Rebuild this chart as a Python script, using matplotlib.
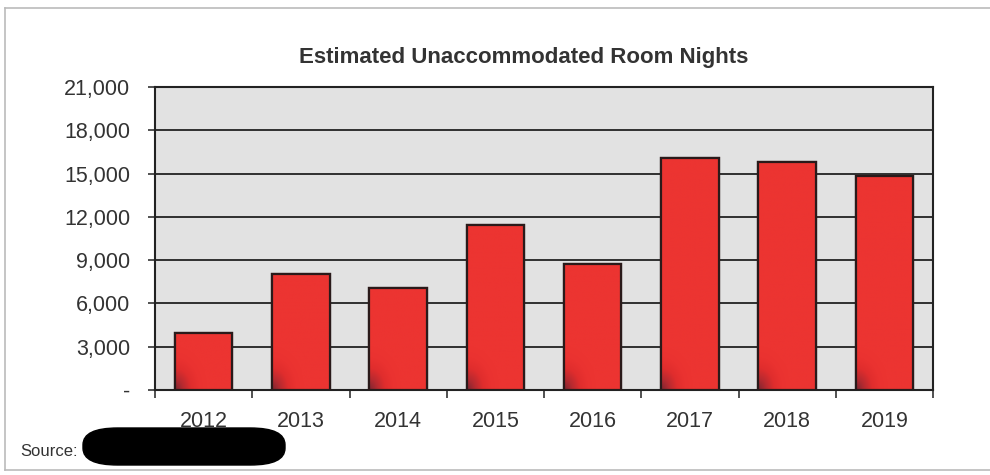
import matplotlib
matplotlib.use("Agg")
import matplotlib.pyplot as plt
import numpy as np
from matplotlib.patches import FancyBboxPatch
from matplotlib.lines import Line2D
from matplotlib.colors import LinearSegmentedColormap
from matplotlib.ticker import FuncFormatter

years = ["2012", "2013", "2014", "2015", "2016", "2017", "2018", "2019"]
room_nights = [3950, 8050, 7100, 11450, 8700, 16050, 15800, 14800]
y_ticks = [0, 3000, 6000, 9000, 12000, 15000, 18000, 21000]
title = "Estimated Unaccommodated Room Nights"
source_label = "Source:"

FONT = ["Liberation Sans Narrow", "Liberation Sans", "DejaVu Sans"]
plt.rcParams["font.family"] = FONT
TXT = "#333333"

fig = plt.figure(figsize=(9.9, 4.75), dpi=100)
ax = fig.add_axes([155 / 990, 1 - 390 / 475, (933 - 155) / 990, (390 - 87) / 475])
ax.set_facecolor("#e2e2e2")

x = np.arange(len(years))
bars = ax.bar(x, room_nights, width=0.59, color="#e8302e",
              edgecolor="#2a1a1a", linewidth=1.6, zorder=3)

# gradient shading: darker toward bottom-left
cmap = LinearSegmentedColormap.from_list("redgrad", ["#7e2630", "#b72a30", "#e02d2d", "#ea3230", "#ec3431"])
gx, gy = np.meshgrid(np.linspace(0, 1, 60), np.linspace(0, 1, 200))
for b in bars:
    x0, y0, w, h = b.get_x(), b.get_y(), b.get_width(), b.get_height()
    scale_y = h / 3000.0
    grad = np.clip(np.sqrt((gx * 1.8) ** 2 + (gy * scale_y) ** 2), 0, 1)
    im = ax.imshow(grad, extent=(x0, x0 + w, y0, y0 + h), origin="lower",
                   cmap=cmap, aspect="auto", zorder=3.5, interpolation="bilinear")
    im.set_clip_path(b)
    ax.add_patch(plt.Rectangle((x0, y0), w, h, fill=False, edgecolor="#2a1a1a",
                               linewidth=1.6, zorder=4))

ax.set_xlim(-0.5, len(years) - 0.5)
ax.set_ylim(0, 21000)
ax.set_yticks(y_ticks)
ax.yaxis.set_major_formatter(FuncFormatter(lambda v, p: "-" if v == 0 else f"{int(v):,}"))
ax.grid(axis="y", color="#222222", linewidth=1.3, zorder=1)
ax.set_axisbelow(True)

ax.set_xticks(x)
ax.set_xticklabels(years)
ax.set_xticks(np.arange(-0.5, len(years), 1.0), minor=True)
ax.tick_params(axis="x", which="major", length=0, pad=15, labelsize=15.5, labelcolor=TXT)
ax.tick_params(axis="x", which="minor", length=6, width=1.2, color="#333333")
ax.tick_params(axis="y", length=5, width=1.2, pad=13, labelsize=15.5, labelcolor=TXT, color="#333333")

for s in ax.spines.values():
    s.set_color("#222222")
    s.set_linewidth(1.5)

fig.text(524 / 990, 1 - 57 / 475, title, ha="center", va="center",
         fontsize=16, fontweight="bold", color=TXT)
fig.text(20 / 990, 1 - 452 / 475, source_label, ha="left", va="center",
         fontsize=12, color=TXT)

# redaction blob
blob = FancyBboxPatch((83 / 990, 1 - 465 / 475), 202 / 990, 37 / 475,
                      boxstyle="round,pad=0,rounding_size=0.035",
                      transform=fig.transFigure, facecolor="black", edgecolor="black",
                      mutation_aspect=475 / 990 * 2.1)
fig.patches.append(blob)

# outer frame
for (xs, ys) in [([5 / 990, 1], [1 - 8 / 475, 1 - 8 / 475]),
                 ([5 / 990, 5 / 990], [1 - 8 / 475, 1 - 470 / 475]),
                 ([5 / 990, 1], [1 - 470 / 475, 1 - 470 / 475])]:
    fig.add_artist(Line2D(xs, ys, transform=fig.transFigure, color="#bbbbbb", linewidth=1.2))

fig.savefig("out.png", dpi=100, facecolor="white")
